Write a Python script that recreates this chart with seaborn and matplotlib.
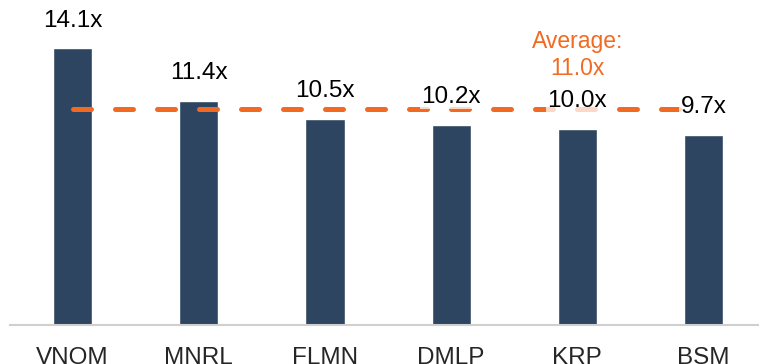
import matplotlib
matplotlib.use('Agg')
import matplotlib.pyplot as plt
import numpy as np
import pandas as pd
import seaborn as sns

# data
names = ['VNOM', 'MNRL', 'FLMN', 'DMLP', 'KRP', 'BSM']
multiples = [14.1, 11.4, 10.5, 10.2, 10.0, 9.7]
avg_value = 11.0

bar_color = '#2D4560'
orange = '#F26A21'

df = pd.DataFrame({'name': names, 'multiple': multiples})

sns.set_style('white')
plt.rcParams['font.family'] = ['Liberation Sans', 'DejaVu Sans']

fig = plt.figure(figsize=(7.59, 3.64), dpi=100)
ax = fig.add_axes([10 / 759, 39 / 364, 749 / 759, 314 / 364])

sns.barplot(data=df, x='name', y='multiple', color=bar_color, width=0.31,
            saturation=1, ax=ax, zorder=2)

# average line
ax.plot([0, len(names) - 1], [avg_value, avg_value], color=orange,
        linewidth=3.6, linestyle=(0, (3.6, 4.8)), dash_capstyle='round',
        zorder=3)

# value labels
for i, v in enumerate(multiples):
    ax.annotate(f'{v:.1f}x', (i, v), xytext=(0, 20), textcoords='offset points',
                ha='center', va='center', fontsize=17.5, color='black', zorder=4,
                bbox=dict(boxstyle='square,pad=0.05', fc='white', ec='none',
                          alpha=0.75))

ax.text(4, 13.75, f'Average:\n{avg_value:.1f}x', ha='center', va='center',
        fontsize=16.5, color=orange, linespacing=1.2, zorder=4)

ax.set_xlim(-0.496, 5.44)
ax.set_ylim(0, 16)
ax.set_xlabel('')
ax.set_ylabel('')
ax.set_yticks([])
ax.tick_params(axis='x', length=0, pad=16)
for lab in ax.get_xticklabels():
    lab.set_fontsize(17.5)

for s in ['top', 'right', 'left']:
    ax.spines[s].set_visible(False)
ax.spines['bottom'].set_color('#D0D0D0')
ax.spines['bottom'].set_linewidth(1.5)

fig.savefig('out.png', dpi=100, facecolor='white')
